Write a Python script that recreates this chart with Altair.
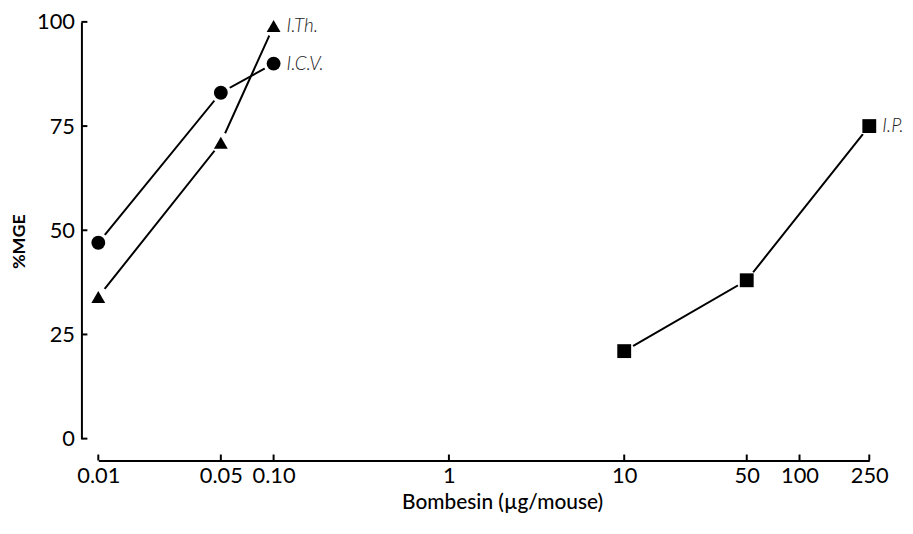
import altair as alt
import pandas as pd

# ---- data ----
ith_dose = [0.01, 0.05, 0.10]
ith_mge = [34, 71, 99]
icv_dose = [0.01, 0.05, 0.10]
icv_mge = [47, 83, 90]
ip_dose = [10, 50, 250]
ip_mge = [21, 38, 75]

series_names = ["I.Th.", "I.C.V.", "I.P."]
series_shapes = ["triangle-up", "circle", "square"]

x_tick_values = [0.01, 0.05, 0.1, 1, 10, 50, 100, 250]
x_tick_labels = ["0.01", "0.05", "0.10", "1", "10", "50", "100", "250"]
y_tick_values = [0, 25, 50, 75, 100]

x_title = "Bombesin (µg/mouse)"
y_title = "%MGE"

# ---- build tables ----
rows = []
for name, doses, vals in zip(series_names, [ith_dose, icv_dose, ip_dose], [ith_mge, icv_mge, ip_mge]):
    for d, v in zip(doses, vals):
        rows.append({"series": name, "dose": d, "mge": v})
df = pd.DataFrame(rows)
last = df.groupby("series", sort=False).tail(1)

xtick_df = pd.DataFrame({"dose": x_tick_values})
ytick_df = pd.DataFrame({"mge": y_tick_values})

W, H = 777, 420
X_OFF, Y_OFF = 22, 17
FONT = "Lato"

label_expr = ""
for v, l in zip(x_tick_values, x_tick_labels):
    label_expr += f"abs(datum.value - {v}) < {v}*0.001 ? '{l}' : "
label_expr += "datum.label"

xscale = alt.Scale(type="log", domain=[0.01, 250], nice=False)
yscale = alt.Scale(domain=[0, 100], nice=False, zero=False)

xaxis = alt.Axis(
    values=x_tick_values, labelExpr=label_expr, ticks=False, grid=False,
    domainColor="black", domainWidth=2, offset=X_OFF,
    labelPadding=5, labelFontSize=22, labelFont=FONT, labelColor="black",
    labelOverlap=False, labelFlush=False,
    title=x_title, titleFont=FONT, titleFontSize=21, titleFontWeight=500,
    titleColor="black", titleX=407, titleY=42, titleBaseline="middle",
)
yaxis = alt.Axis(
    values=y_tick_values, ticks=False, grid=False,
    domainColor="black", domainWidth=2, offset=Y_OFF,
    labelPadding=7, labelFontSize=22, labelFont=FONT, labelColor="black",
    labelOverlap=False, labelFlush=False,
    title=y_title, titleFont=FONT, titleFontSize=18, titleFontWeight="bold",
    titleColor="black", titleX=-62, titleY=221, titleBaseline="middle", titleAngle=-90,
)

x_enc = alt.X("dose:Q", scale=xscale, axis=xaxis)
y_enc = alt.Y("mge:Q", scale=yscale, axis=yaxis)
shape_enc = alt.Shape("series:N", scale=alt.Scale(domain=series_names, range=series_shapes), legend=None)

base = alt.Chart(df)

lines = base.mark_line(color="black", strokeWidth=2).encode(
    x=x_enc, y=y_enc, detail="series:N"
)
halo = base.mark_point(
    shape="circle", filled=True, color="white", opacity=1, size=440
).encode(x=x_enc, y=y_enc)
points = base.mark_point(
    filled=True, color="black", opacity=1, size=195
).encode(x=x_enc, y=y_enc, shape=shape_enc)

labels = alt.Chart(last).mark_text(
    align="left", baseline="middle", dx=13, font=FONT, fontSize=19,
    fontStyle="italic", fontWeight=300, color="#222"
).encode(x=x_enc, y=y_enc, text="series:N")

xticks = alt.Chart(xtick_df).mark_rule(color="black", strokeWidth=2).encode(
    x=x_enc, y=alt.value(H + X_OFF - 6), y2=alt.value(H + X_OFF)
)
yticks = alt.Chart(ytick_df).mark_rule(color="black", strokeWidth=2).encode(
    y=y_enc, x=alt.value(-Y_OFF), x2=alt.value(-Y_OFF + 6)
)

chart = alt.layer(lines, halo, points, labels, xticks, yticks).properties(
    width=W, height=H,
    autosize=alt.AutoSizeParams(type="none"),
    padding={"left": 91, "top": 12, "right": 36, "bottom": 80},
).configure_view(stroke=None)

chart.save("out.html", embed_options={"renderer": "svg", "actions": False})
